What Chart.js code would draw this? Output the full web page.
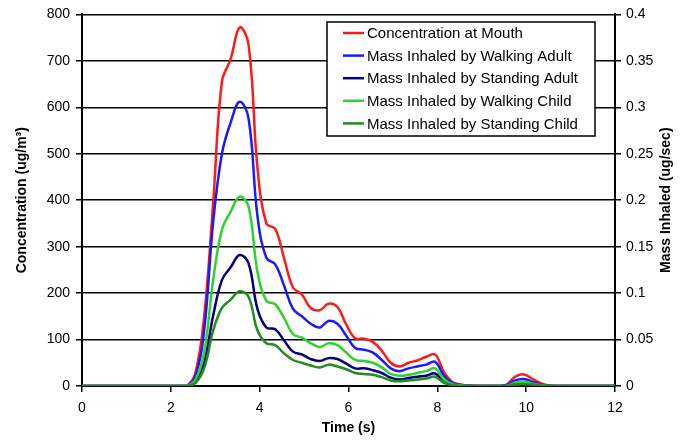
<!DOCTYPE html>
<html>
<head>
<meta charset="utf-8">
<script src="https://cdn.jsdelivr.net/npm/chart.js@4.4.1/dist/chart.umd.min.js"></script>
<style>
  html, body { margin: 0; padding: 0; background: #fff; }
  #wrap { width: 685px; height: 442px; }
</style>
</head>
<body>
<div id="wrap"><canvas id="chart" width="685" height="442"></canvas></div>
<script>
const times = [0, 0.15, 0.35, 0.55, 0.75, 0.95, 1.15, 1.35, 1.55, 1.75, 1.95, 2.15, 2.35, 2.55, 2.75, 2.95,
  3.15, 3.35, 3.55, 3.75, 3.95, 4.15, 4.35, 4.55, 4.75, 4.95, 5.15, 5.35, 5.55, 5.75, 5.95, 6.15, 6.35,
  6.55, 6.75, 6.95, 7.15, 7.35, 7.55, 7.75, 7.95, 8.15, 8.35, 8.55, 8.75, 8.95, 9.15, 9.35, 9.55, 9.75,
  9.95, 10.15, 10.35, 10.55, 10.75, 10.95, 11.15, 11.35, 11.55, 11.75, 11.95, 12];

// ug/m3 (left axis)
const concMouth = [0, 0, 0, 0, 0, 0, 0, 0, 0, 0, 0, 0, 0,
  27, 150, 390, 655, 705, 772, 735, 470, 350, 338, 275, 212, 197, 168, 163, 177, 170, 132, 103, 102,
  95, 76, 50, 42, 50, 55, 63, 68, 30, 8, 3, 1, 0, 0, 0, 2, 20, 25, 15, 5, 1,
  0, 0, 0, 0, 0, 0, 0, 0];

// ug/sec (right axis)
const walkAdult = [0, 0, 0, 0, 0, 0, 0, 0, 0, 0, 0, 0, 0,
  0.010, 0.060, 0.175, 0.250, 0.284, 0.306, 0.288, 0.183, 0.138, 0.131, 0.108, 0.083, 0.075, 0.067,
  0.063, 0.070, 0.067, 0.054, 0.041, 0.039, 0.036, 0.028, 0.019, 0.016, 0.019, 0.021, 0.023, 0.026,
  0.011, 0.003, 0.001, 0, 0, 0, 0, 0.001, 0.006, 0.0075, 0.0045, 0.0015, 0,
  0, 0, 0, 0, 0, 0, 0, 0];
const standAdult = [0, 0, 0, 0, 0, 0, 0, 0, 0, 0, 0, 0, 0,
  0.0045, 0.025, 0.075, 0.114, 0.128, 0.141, 0.132, 0.083, 0.063, 0.061, 0.049, 0.037, 0.034, 0.029,
  0.027, 0.030, 0.029, 0.024, 0.019, 0.019, 0.017, 0.014, 0.009, 0.007, 0.0085, 0.010, 0.011, 0.0135,
  0.0045, 0.0015, 0, 0, 0, 0, 0, 0, 0.002, 0.003, 0.002, 0.001, 0,
  0, 0, 0, 0, 0, 0, 0, 0];
const walkChild = [0, 0, 0, 0, 0, 0, 0, 0, 0, 0, 0, 0, 0,
  0.0065, 0.036, 0.113, 0.168, 0.188, 0.204, 0.193, 0.123, 0.092, 0.088, 0.073, 0.056, 0.052, 0.046,
  0.042, 0.046, 0.044, 0.036, 0.028, 0.027, 0.025, 0.020, 0.013, 0.011, 0.012, 0.014, 0.016, 0.019,
  0.007, 0.002, 0.0005, 0, 0, 0, 0, 0, 0.0035, 0.0045, 0.0025, 0.001, 0,
  0, 0, 0, 0, 0, 0, 0, 0];
const standChild = [0, 0, 0, 0, 0, 0, 0, 0, 0, 0, 0, 0, 0,
  0.003, 0.019, 0.059, 0.084, 0.093, 0.102, 0.096, 0.060, 0.046, 0.044, 0.035, 0.028, 0.025, 0.022,
  0.020, 0.023, 0.021, 0.018, 0.014, 0.013, 0.012, 0.0095, 0.006, 0.005, 0.006, 0.007, 0.008, 0.010,
  0.0035, 0.001, 0, 0, 0, 0, 0, 0, 0.0015, 0.002, 0.0015, 0.0005, 0,
  0, 0, 0, 0, 0, 0, 0, 0];

const seriesNames = ['Concentration at Mouth', 'Mass Inhaled by Walking Adult', 'Mass Inhaled by Standing Adult',
  'Mass Inhaled by Walking Child', 'Mass Inhaled by Standing Child'];
const seriesColors = ['#ff1a1a', '#1a1aff', '#000080', '#2ed12e', '#228b22'];

const xTitle = 'Time (s)';
const yTitle = 'Concentration (ug/m\u00B3)';
const y1Title = 'Mass Inhaled (ug/sec)';

const FONT = "'Liberation Sans', Arial, Helvetica, sans-serif";

function pts(vals) {
  return vals.map((v, i) => ({ x: times[i], y: v }));
}

const allSeries = [concMouth, walkAdult, standAdult, walkChild, standChild];
const datasets = allSeries.map((vals, i) => ({
  label: seriesNames[i],
  data: pts(vals),
  yAxisID: i === 0 ? 'y' : 'y1',
  borderColor: seriesColors[i],
  backgroundColor: seriesColors[i],
  borderWidth: 2.5,
  pointRadius: 0,
  tension: 0.4,
  fill: false,
  order: 4 - i
}));

// legend box + axis titles drawn by hand so they can sit where the original has them
const extras = {
  id: 'extras',
  afterDraw(chart) {
    const ctx = chart.ctx;
    const area = chart.chartArea;
    ctx.save();

    // legend
    const bx = 327, by = 22, bw = 268, bh = 114;
    ctx.fillStyle = '#fff';
    ctx.fillRect(bx, by, bw, bh);
    ctx.strokeStyle = '#000';
    ctx.lineWidth = 1.5;
    ctx.strokeRect(bx, by, bw, bh);
    ctx.font = '15px ' + FONT;
    ctx.textBaseline = 'middle';
    ctx.textAlign = 'left';
    chart.data.datasets.forEach((ds, i) => {
      const yy = 33 + i * 22.6;
      ctx.strokeStyle = ds.borderColor;
      ctx.lineWidth = 2.5;
      ctx.beginPath();
      ctx.moveTo(343, yy);
      ctx.lineTo(364, yy);
      ctx.stroke();
      ctx.fillStyle = '#000';
      ctx.fillText(ds.label, 367, yy + 1);
    });

    // axis titles
    ctx.fillStyle = '#000';
    ctx.font = 'bold 14px ' + FONT;
    ctx.textAlign = 'center';
    ctx.fillText(xTitle, (area.left + area.right) / 2, 428);

    const midY = (area.top + area.bottom) / 2;
    ctx.translate(22, midY);
    ctx.rotate(-Math.PI / 2);
    ctx.fillText(yTitle, 0, 0);
    ctx.rotate(Math.PI / 2);
    ctx.translate(-22, -midY);

    ctx.translate(666, midY);
    ctx.rotate(-Math.PI / 2);
    ctx.fillText(y1Title, 0, 0);
    ctx.restore();
  }
};

new Chart(document.getElementById('chart'), {
  type: 'line',
  data: { datasets: datasets },
  options: {
    responsive: false,
    animation: false,
    devicePixelRatio: 1,
    layout: { padding: { top: 13, left: 0, right: 0, bottom: 0 } },
    plugins: {
      legend: { display: false },
      tooltip: { enabled: false }
    },
    scales: {
      x: {
        type: 'linear',
        min: 0,
        max: 12,
        afterFit: s => { s.height = 56; },
        ticks: { stepSize: 2, color: '#000', font: { family: FONT, size: 14 }, padding: 8, maxRotation: 0 },
        grid: { drawOnChartArea: false, drawTicks: true, tickLength: 6, color: '#000', lineWidth: 1.5 },
        border: { color: '#000', width: 2 }
      },
      y: {
        position: 'left',
        min: 0,
        max: 800,
        afterFit: s => { s.width = 82; },
        ticks: { stepSize: 100, color: '#000', font: { family: FONT, size: 14 }, padding: 6 },
        grid: { color: '#000', lineWidth: 1.5, tickLength: 6 },
        border: { color: '#000', width: 2 }
      },
      y1: {
        position: 'right',
        min: 0,
        max: 0.4,
        afterFit: s => { s.width = 70; },
        ticks: {
          stepSize: 0.05,
          color: '#000',
          font: { family: FONT, size: 14 },
          padding: 5,
          callback: v => String(Math.round(v * 100) / 100)
        },
        grid: { drawOnChartArea: false, color: '#000', lineWidth: 1.5, tickLength: 6 },
        border: { color: '#000', width: 2 }
      }
    }
  },
  plugins: [extras]
});
</script>
</body>
</html>
